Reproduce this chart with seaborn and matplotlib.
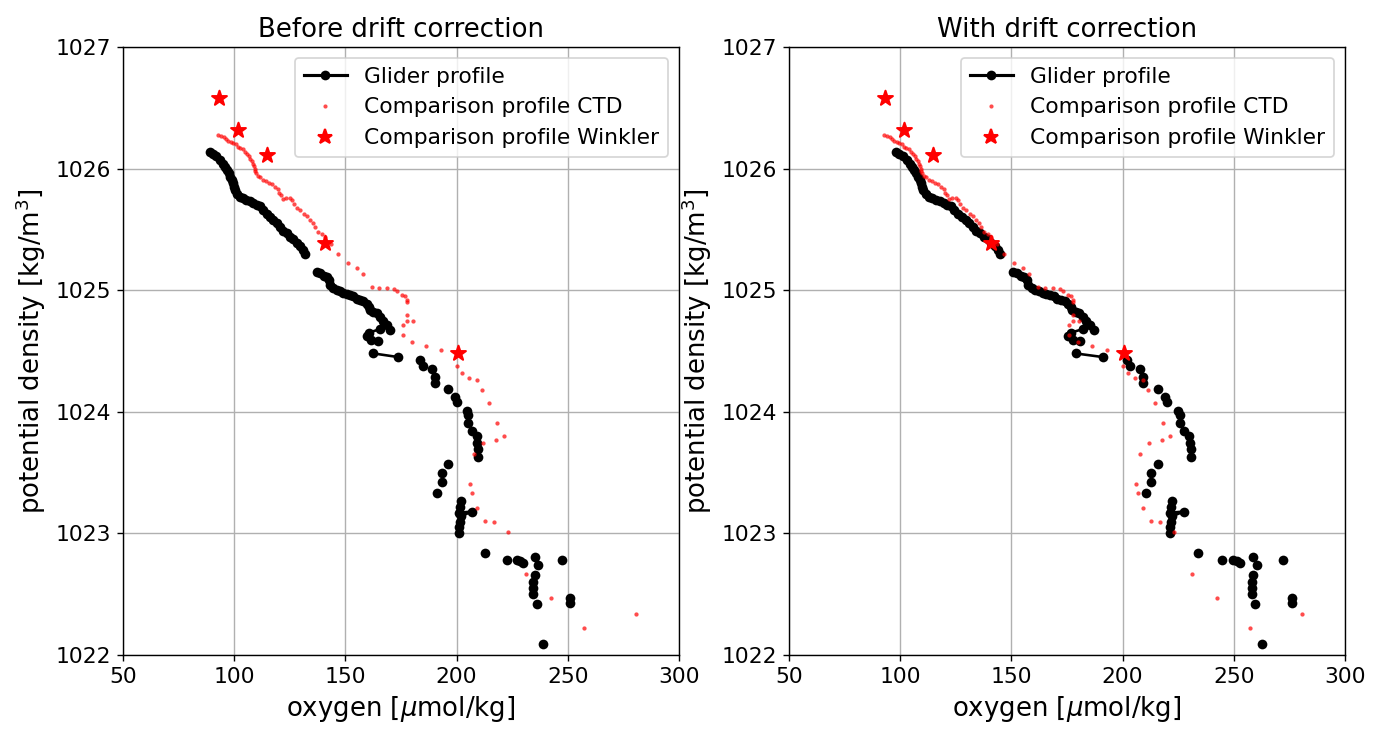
import numpy as np
import pandas as pd
import matplotlib
matplotlib.use("Agg")
import matplotlib.pyplot as plt
from matplotlib.lines import Line2D
import seaborn as sns

# ---------------- data ----------------
titles = ["Before drift correction", "With drift correction"]
x_label = r"oxygen [$\mu$mol/kg]"
y_label = r"potential density [kg/m$^3$]"
x_ticks = [50, 100, 150, 200, 250, 300]
y_ticks = [1022, 1023, 1024, 1025, 1026, 1027]

# glider profile, raw (segment id: points of one segment are joined by a line)
glider_density = [
    1026.14, 1026.12, 1026.10, 1026.07, 1026.04, 1026.01, 1025.99, 1025.96, 1025.93, 1025.91,
    1025.88, 1025.85, 1025.82, 1025.79, 1025.77, 1025.76, 1025.74, 1025.73, 1025.72, 1025.70,
    1025.69, 1025.66, 1025.63, 1025.60, 1025.58, 1025.55, 1025.52, 1025.49, 1025.47, 1025.44,
    1025.42, 1025.39, 1025.36, 1025.33, 1025.30,
    1025.15, 1025.14, 1025.12, 1025.11, 1025.08, 1025.04, 1025.02, 1025.00, 1024.99, 1024.98,
    1024.97, 1024.96, 1024.95, 1024.93, 1024.92, 1024.91, 1024.89, 1024.86, 1024.84, 1024.82,
    1024.81, 1024.78, 1024.75, 1024.71, 1024.67,
    1024.68, 1024.65, 1024.62, 1024.59, 1024.58,
    1024.48, 1024.45,
    1024.43, 1024.38, 1024.35, 1024.29, 1024.24, 1024.19, 1024.12, 1024.08, 1024.01, 1023.97,
    1023.91, 1023.84, 1023.80, 1023.74, 1023.69, 1023.63, 1023.57, 1023.50, 1023.42, 1023.33,
    1023.27, 1023.22, 1023.17, 1023.18, 1023.14, 1023.09, 1023.05, 1023.00,
    1022.84, 1022.78, 1022.78, 1022.77, 1022.76, 1022.81, 1022.74, 1022.66, 1022.60, 1022.55,
    1022.50, 1022.42, 1022.78, 1022.47, 1022.43, 1022.09,
]
glider_oxygen_raw = [
    89.1, 90.5, 92.0, 93.6, 94.8, 95.8, 96.6, 97.5, 98.3, 98.9,
    99.5, 100.0, 100.4, 101.3, 102.6, 104.0, 105.5, 107.1, 108.6, 110.1,
    111.6, 113.1, 114.6, 116.1, 117.6, 119.1, 120.6, 122.1, 123.6, 125.1,
    126.6, 128.1, 129.6, 130.8, 131.8,
    137.1, 138.8, 140.2, 141.6, 142.5, 143.1, 144.6, 146.1, 147.6, 149.1,
    150.6, 152.1, 153.6, 155.1, 156.6, 158.1, 159.6, 160.5, 161.1, 162.6,
    164.1, 165.5, 167.0, 168.5, 170.1,
    165.5, 160.5, 159.6, 161.5, 164.5,
    162.6, 173.8,
    183.5, 185.0, 188.8, 190.3, 190.3, 196.3, 199.3, 200.0, 204.5, 205.3,
    205.3, 206.8, 209.0, 209.3, 209.8, 209.8, 196.3, 193.3, 193.3, 191.3,
    201.8, 201.5, 201.3, 206.8, 202.0, 201.5, 201.3, 201.2,
    212.8, 222.5, 227.0, 228.5, 230.0, 235.2, 236.7, 235.2, 234.5, 234.5,
    234.5, 236.0, 247.3, 251.0, 251.0, 239.0,
]
glider_oxygen_corrected = [
    98.0, 99.6, 101.2, 103.0, 104.3, 105.4, 106.3, 107.3, 108.1, 108.8,
    109.5, 110.0, 110.4, 111.4, 112.9, 114.4, 116.1, 117.8, 119.5, 121.1,
    122.8, 124.4, 126.1, 127.7, 129.4, 131.0, 132.7, 134.3, 136.0, 137.6,
    139.3, 140.9, 142.6, 143.9, 145.0,
    150.8, 152.7, 154.2, 155.8, 156.8, 157.4, 159.1, 160.7, 162.4, 164.0,
    165.7, 167.3, 169.0, 170.6, 172.3, 173.9, 175.6, 176.6, 177.2, 178.9,
    180.5, 182.1, 183.7, 185.4, 187.1,
    182.1, 176.6, 175.6, 177.7, 181.0,
    178.9, 191.2,
    201.9, 203.5, 207.7, 209.3, 209.3, 215.9, 219.2, 220.0, 225.0, 225.8,
    225.8, 227.5, 229.9, 230.2, 230.8, 230.8, 215.9, 212.6, 212.6, 210.4,
    222.0, 221.7, 221.4, 227.5, 222.2, 221.7, 221.4, 221.3,
    234.1, 244.8, 249.7, 251.4, 253.0, 258.7, 260.4, 258.7, 258.0, 258.0,
    258.0, 259.6, 272.0, 276.1, 276.1, 262.9,
]
glider_segment = (
    [0] * 35 + [1] * 25 + [2] * 5 + [3] * 2
    + list(range(4, 24)) + [24] * 8 + list(range(25, 41))
)

# comparison CTD profile
ctd_oxygen = [
    92.9, 94.0, 95.2, 96.3, 97.4, 98.5, 99.6, 100.7, 101.8, 102.8,
    103.8, 104.9, 105.8, 106.6, 107.3, 108.0, 108.6, 109.0, 109.3, 109.5,
    109.6, 110.6, 111.8, 113.1, 114.5, 115.8, 117.2, 118.5, 119.5, 120.3,
    121.0, 122.0, 123.5, 125.0, 126.0, 127.0, 128.3, 129.6, 131.2, 132.6,
    134.1, 135.5, 136.5, 137.8, 139.3, 140.8,
    143.5, 146.8, 151.3, 155.1, 158.1, 161.8, 165.3, 168.6, 171.7, 173.0,
    175.3, 176.8, 177.5, 177.5, 177.8, 177.5, 180.5, 176.0, 175.7, 180.0,
    186.2, 192.8, 200.3, 202.6, 205.6, 209.0, 211.3, 214.7, 218.3, 221.3,
    217.7, 212.0, 207.8, 206.2, 206.9, 209.2, 212.6, 217.0, 223.3, 231.0,
    242.4, 257.1, 280.7,
]
ctd_density = [
    1026.28, 1026.27, 1026.26, 1026.24, 1026.23, 1026.22, 1026.21, 1026.20, 1026.18, 1026.17,
    1026.16, 1026.14, 1026.12, 1026.10, 1026.08, 1026.06, 1026.04, 1026.02, 1026.00, 1025.98,
    1025.96, 1025.94, 1025.93, 1025.91, 1025.90, 1025.88, 1025.87, 1025.85, 1025.83, 1025.80,
    1025.78, 1025.75, 1025.76, 1025.76, 1025.74, 1025.71, 1025.68, 1025.66, 1025.63, 1025.61,
    1025.58, 1025.55, 1025.52, 1025.48, 1025.46, 1025.44,
    1025.38, 1025.30, 1025.22, 1025.18, 1025.13, 1025.03, 1025.02, 1025.02, 1025.01, 1024.99,
    1024.96, 1024.95, 1024.92, 1024.90, 1024.80, 1024.75, 1024.75, 1024.71, 1024.63, 1024.57,
    1024.54, 1024.51, 1024.38, 1024.32, 1024.28, 1024.26, 1024.18, 1024.07, 1023.91, 1023.80,
    1023.77, 1023.74, 1023.65, 1023.41, 1023.33, 1023.21, 1023.10, 1023.09, 1023.01, 1022.67,
    1022.47, 1022.22, 1022.34,
]

# comparison Winkler samples
winkler_oxygen = [93.2, 101.9, 114.9, 140.8, 200.8]
winkler_density = [1026.58, 1026.32, 1026.11, 1025.39, 1024.48]

legend_labels = ["Glider profile", "Comparison profile CTD", "Comparison profile Winkler"]

# ---------------- plot ----------------
dpi = 125
fig, axes = plt.subplots(1, 2, figsize=(1379 / dpi, 733 / dpi), dpi=dpi)
fig.subplots_adjust(left=123 / 1379, right=1345 / 1379, bottom=1 - 655 / 733,
                    top=1 - 47 / 733, wspace=(789 - 679) / ((679 - 123)))

ctd_df = pd.DataFrame({"oxygen": ctd_oxygen, "density": ctd_density})
wink_df = pd.DataFrame({"oxygen": winkler_oxygen, "density": winkler_density})

for ax, title, gox in zip(axes, titles, [glider_oxygen_raw, glider_oxygen_corrected]):
    gdf = pd.DataFrame({"oxygen": gox, "density": glider_density, "seg": glider_segment})
    sns.lineplot(data=gdf, x="oxygen", y="density", units="seg", estimator=None,
                 sort=False, color="k", marker="o", markersize=5.6,
                 markeredgewidth=0, markeredgecolor="k", linewidth=1.5,
                 legend=False, ax=ax, zorder=3)
    sns.scatterplot(data=ctd_df, x="oxygen", y="density", color="red", s=6,
                    alpha=0.7, linewidth=0, legend=False, ax=ax, zorder=4)
    sns.scatterplot(data=wink_df, x="oxygen", y="density", color="red", marker="*",
                    s=80, linewidth=1.2, edgecolor="red", legend=False, ax=ax, zorder=5)

    ax.set_xlim(50, 300)
    ax.set_ylim(1022, 1027)
    ax.set_xticks(x_ticks)
    ax.set_yticks(y_ticks)
    ax.ticklabel_format(useOffset=False, style="plain")
    ax.tick_params(labelsize=12.5)
    ax.grid(True)
    ax.set_title(title, fontsize=15)
    ax.set_xlabel(x_label, fontsize=15)
    ax.set_ylabel(y_label, fontsize=15)

    handles = [
        Line2D([], [], color="k", marker="o", markersize=5.6, markeredgewidth=0, linewidth=1.8),
        Line2D([], [], color="red", marker="o", markersize=2.4, markeredgewidth=0,
               linestyle="", alpha=0.7),
        Line2D([], [], color="red", marker="*", markersize=9, markeredgewidth=1.2,
               markeredgecolor="red", linestyle=""),
    ]
    ax.legend(handles, legend_labels, loc="upper right", fontsize=12.5)

fig.savefig("out.png", dpi=dpi)
